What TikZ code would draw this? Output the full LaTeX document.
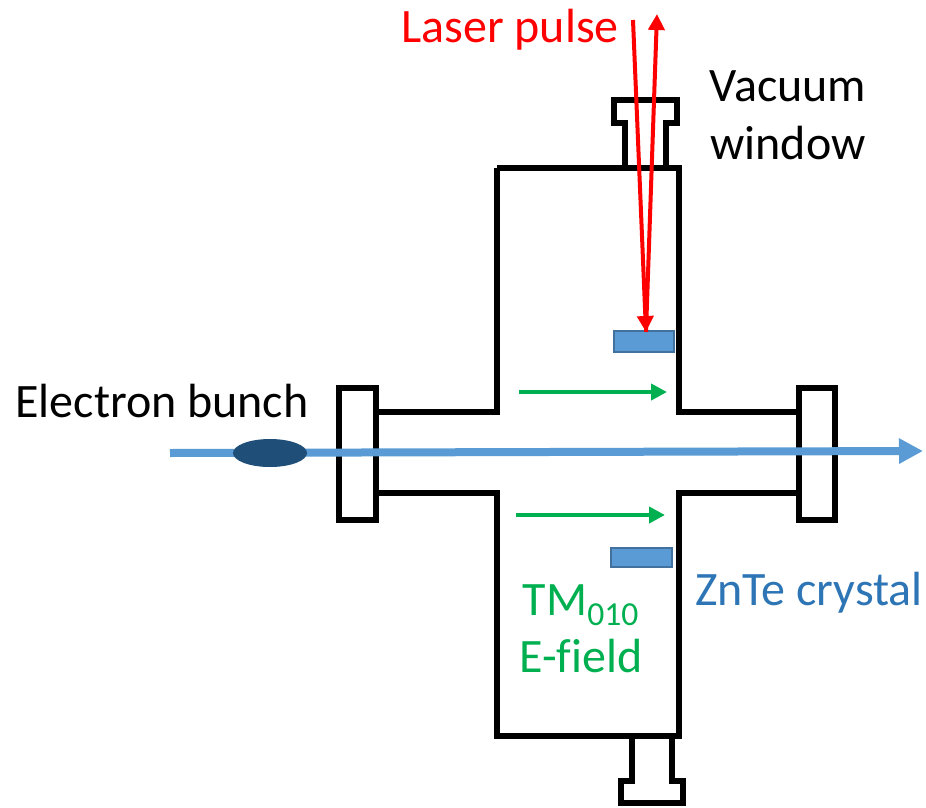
\documentclass[tikz,border=0pt]{standalone}
\usepackage{fontspec}
\setmainfont[Ligatures=NoCommon]{Carlito}
\usetikzlibrary{arrows.meta,shapes.geometric}
\definecolor{beamblue}{HTML}{5B9BD5}
\definecolor{bunchblue}{HTML}{1F4E79}
\definecolor{edgeblue}{HTML}{41719C}
\definecolor{textblue}{HTML}{2E75B6}
\definecolor{fieldgreen}{HTML}{00B050}
\tikzset{
  wall/.style={black,line width=4.5pt,line join=miter},
  crystal/.style={draw=edgeblue,fill=beamblue,line width=1.5pt,inner sep=0pt},
  laser/.style={red,line width=3pt,-{Triangle[length=12pt,width=12pt]}},
  field/.style={fieldgreen,line width=3pt,-{Triangle[length=12pt,width=12pt]}},
  beam/.style={beamblue,line width=6pt,-{Triangle[length=18pt,width=18pt]}},
  caption/.style={inner sep=0pt,anchor=base,font=\fontsize{36}{42}\selectfont},
}
\begin{document}
\begin{tikzpicture}[x=0.75pt,y=-0.75pt]
\useasboundingbox (0,0) rectangle (926,808);
%%
  \draw [wall] (497,168) -- (497,412) -- (376,412);
  \draw [wall] (497,168) -- (679,168) -- (679,412) -- (799,412);
  \draw [wall] (376,493) -- (497,493) -- (497,736) -- (679,736) -- (679,493) -- (799,493);
  \draw [wall] (339,388) rectangle (376,520);
  \draw [wall] (799,388) rectangle (835,520);
  \draw [wall] (625,168) -- (625,123) -- (614,123) -- (614,100) -- (677,100) -- (677,123) -- (666,123) -- (666,168);
  \draw [wall] (632,736) -- (632,781) -- (621,781) -- (621,803) -- (683,803) -- (683,781) -- (672,781) -- (672,736);

  \node (crystal_top) at (644,341.5) [crystal,minimum width=45.5pt,minimum height=15.5pt] {};
  \node (crystal_bottom) at (641.5,557.5) [crystal,minimum width=45.5pt,minimum height=14.5pt] {};

  \coordinate (laser_in) at (633,20);
  \coordinate (laser_spot) at (646,332);
  \coordinate (laser_out) at (657,14);
  \draw [laser] (laser_in) -- (laser_spot);
  \draw [laser] (laser_spot) -- (laser_out);

  \coordinate (beam_in) at (170,453);
  \coordinate (beam_out) at (923,451);
  \draw [beam] (beam_in) -- (beam_out);
  \node (bunch) at (270,453) [ellipse,fill=bunchblue,minimum width=55.5pt,minimum height=21pt,inner sep=0pt] {};

  \coordinate (field_a0) at (519,392);
  \coordinate (field_a1) at (667,392);
  \coordinate (field_b0) at (516,515);
  \coordinate (field_b1) at (665,515);
  \draw [field] (field_a0) -- (field_a1);
  \draw [field] (field_b0) -- (field_b1);

  \node (label_laser) at (510,42) [caption,red] {Laser pulse};
  \node (label_window) at (788,101) [caption] {Vacuum};
  \node (label_window2) at (788,159) [caption] {window};
  \node (label_bunch) at (162,417) [caption] {Electron bunch};
  \node (label_crystal) at (809,605) [caption,textblue] {ZnTe crystal};
  \node (label_tm) at (581,615) [caption,fieldgreen] {TM\textsubscript{010}};
  \node (label_field) at (581,672) [caption,fieldgreen] {E-field};
\end{tikzpicture}
\end{document}
